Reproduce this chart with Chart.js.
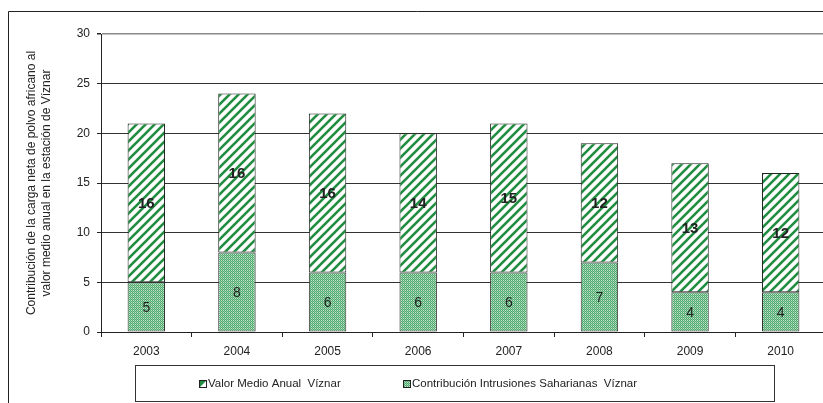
<!DOCTYPE html>
<html>
<head>
<meta charset="utf-8">
<script src="https://cdn.jsdelivr.net/npm/chart.js@4.4.1/dist/chart.umd.min.js"></script>
<style>
  html, body { margin: 0; padding: 0; background: #fff; overflow: hidden; width: 823px; height: 403px; }
  canvas { display: block; }
</style>
</head>
<body>
<canvas id="c" width="826" height="403" style="width:826px;height:403px"></canvas>
<script>
const categories = ['2003', '2004', '2005', '2006', '2007', '2008', '2009', '2010'];
const intrusionesSaharianas = [5, 8, 6, 6, 6, 7, 4, 4];
const valorMedioAnual = [16, 16, 16, 14, 15, 12, 13, 12];
const yTickValues = [0, 5, 10, 15, 20, 25, 30];
const seriesNames = ['Valor Medio Anual  Víznar', 'Contribución Intrusiones Saharianas  Víznar'];
const yTitle = ['Contribución de la carga neta de polvo africano al', 'valor medio anual en la estación de Víznar'];

function stripePattern() {
  const s = 9;
  const c = document.createElement('canvas');
  c.width = s; c.height = s;
  const g = c.getContext('2d');
  g.fillStyle = '#ffffff';
  g.fillRect(0, 0, s, s);
  g.strokeStyle = '#218d40';
  g.lineWidth = 2.6;
  g.beginPath();
  for (let k = -1; k <= 1; k++) {
    g.moveTo(k * s - 1, s + 1);
    g.lineTo(k * s + s + 1, -1);
  }
  g.stroke();
  return g.createPattern(c, 'repeat');
}
function stipplePattern() {
  const c = document.createElement('canvas');
  c.width = 2; c.height = 2;
  const g = c.getContext('2d');
  g.fillStyle = '#4fa86d';
  g.fillRect(0, 0, 2, 2);
  g.fillStyle = '#c2e5cc';
  g.fillRect(1, 0, 1, 1);
  g.fillStyle = '#8ccaa0';
  g.fillRect(0, 1, 1, 1);
  return g.createPattern(c, 'repeat');
}
const stripes = stripePattern();
const stipple = stipplePattern();

const decorPlugin = {
  id: 'decor',
  beforeDraw(chart) {
    const ctx = chart.ctx;
    ctx.save();
    ctx.fillStyle = '#fff';
    ctx.fillRect(0, 0, chart.width, chart.height);
    ctx.restore();
  },
  afterDraw(chart) {
    const ctx = chart.ctx;
    ctx.save();
    ctx.strokeStyle = '#222';
    ctx.lineWidth = 1;
    ctx.beginPath();
    ctx.moveTo(8.5, 403);
    ctx.lineTo(8.5, 11.5);
    ctx.lineTo(826, 11.5);
    ctx.stroke();
    ctx.strokeStyle = '#333';
    ctx.strokeRect(135.5, 365.5, 639, 36);
    ctx.font = '11.5px "Liberation Sans", Arial, sans-serif';
    ctx.textBaseline = 'middle';
    ctx.textAlign = 'left';
    const items = [
      { x: 199, fill: 'stripe', label: chart.data.datasets[1].label },
      { x: 403, fill: stipple, label: chart.data.datasets[0].label }
    ];
    const my = 384;
    items.forEach(it => {
      if (it.fill === 'stripe') {
        ctx.fillStyle = '#fff';
        ctx.fillRect(it.x, my - 4, 8, 8);
        ctx.fillStyle = '#218d40';
        ctx.beginPath();
        ctx.moveTo(it.x, my + 4);
        ctx.lineTo(it.x, my - 4);
        ctx.lineTo(it.x + 8, my - 4);
        ctx.closePath();
        ctx.fill();
      } else {
        ctx.fillStyle = it.fill;
        ctx.fillRect(it.x, my - 4, 8, 8);
      }
      ctx.strokeStyle = '#222';
      ctx.strokeRect(it.x + 0.5, my - 3.5, 7, 7);
      ctx.fillStyle = '#222';
      ctx.fillText(it.label, it.x + 9, my);
    });
    ctx.restore();
  },
  afterDatasetsDraw(chart) {
    const ctx = chart.ctx;
    ctx.save();
    ctx.textAlign = 'center';
    ctx.textBaseline = 'middle';
    ctx.fillStyle = '#222';
    chart.data.datasets.forEach((ds, di) => {
      const meta = chart.getDatasetMeta(di);
      ctx.font = di === 1 ? 'bold 15px "Liberation Sans", Arial, sans-serif' : '14px "Liberation Sans", Arial, sans-serif';
      meta.data.forEach((el, i) => {
        const y = (el.y + el.base) / 2;
        ctx.fillText(String(ds.data[i]), el.x, y + 1);
      });
    });
    ctx.restore();
  }
};

new Chart(document.getElementById('c'), {
  type: 'bar',
  data: {
    labels: categories,
    datasets: [
      {
        label: seriesNames[1],
        data: intrusionesSaharianas,
        backgroundColor: stipple,
        borderColor: '#333',
        borderWidth: 1,
        borderSkipped: false,
        categoryPercentage: 1,
        barPercentage: 0.413
      },
      {
        label: seriesNames[0],
        data: valorMedioAnual,
        backgroundColor: stripes,
        borderColor: '#222',
        borderWidth: 1,
        borderSkipped: false,
        categoryPercentage: 1,
        barPercentage: 0.413
      }
    ]
  },
  options: {
    responsive: false,
    animation: false,
    devicePixelRatio: 1,
    layout: { padding: { left: 8, top: 34, right: 0, bottom: 0 } },
    plugins: {
      legend: { display: false },
      tooltip: { enabled: false }
    },
    scales: {
      x: {
        stacked: true,
        afterFit(s) { s.height = 71; },
        grid: { drawOnChartArea: false, drawTicks: true, tickLength: 5, offset: true, color: '#222' },
        border: { color: '#222', width: 1 },
        ticks: {
          color: '#222',
          padding: 7,
          font: { family: '"Liberation Sans", Arial, sans-serif', size: 12 }
        }
      },
      y: {
        stacked: true,
        min: 0,
        max: 30,
        afterFit(s) { s.width = 93; },
        afterBuildTicks(s) { s.ticks = yTickValues.map(v => ({ value: v })); },
        grid: {
          color: ctx => (ctx.tick && ctx.tick.value === 30 ? '#8a8a8a' : '#333'),
          lineWidth: ctx => (ctx.tick && ctx.tick.value === 30 ? 1.5 : 1),
          tickLength: 4,
          tickColor: '#222'
        },
        border: { color: '#222', width: 1 },
        ticks: {
          color: '#222',
          padding: 7,
          font: { family: '"Liberation Sans", Arial, sans-serif', size: 12 }
        },
        title: {
          display: true,
          text: yTitle,
          color: '#222',
          padding: { top: 16, bottom: 0 },
          font: { family: '"Liberation Sans", Arial, sans-serif', size: 12, lineHeight: 1.25 }
        }
      }
    }
  },
  plugins: [decorPlugin]
});
</script>
</body>
</html>
